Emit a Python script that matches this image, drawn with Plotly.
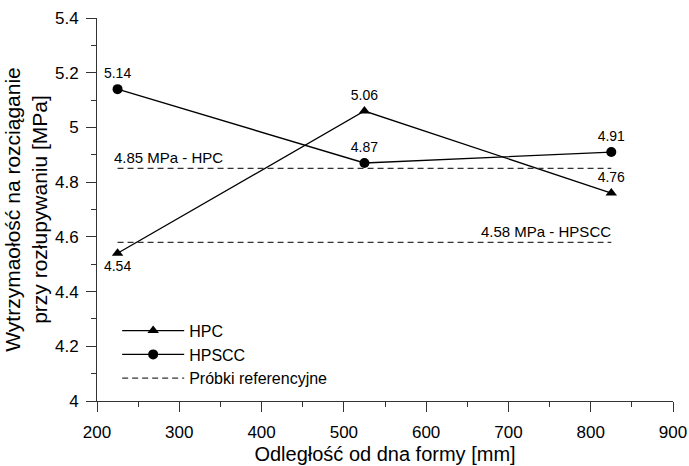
import plotly.graph_objects as go

x_pos = [225, 525, 825]
hpc = [4.54, 5.06, 4.76]
hpscc = [5.14, 4.87, 4.91]
hpc_labels = ["4.54", "5.06", "4.76"]
hpscc_labels = ["5.14", "4.87", "4.91"]
ref_x = [225, 825]
ref_hpc = 4.85
ref_hpscc = 4.58

FONT = "Liberation Sans, Arial, sans-serif"

fig = go.Figure()
fig.add_trace(go.Scatter(
    x=x_pos, y=hpc, mode="lines+markers+text", name="HPC",
    line=dict(color="black", width=1.3),
    marker=dict(symbol="triangle-up", size=10, color="black"),
    text=hpc_labels, textposition=["bottom center", "top center", "top center"],
    textfont=dict(family=FONT, size=14, color="black"),
))
fig.add_trace(go.Scatter(
    x=x_pos, y=hpscc, mode="lines+markers+text", name="HPSCC",
    line=dict(color="black", width=1.3),
    marker=dict(symbol="circle", size=10, color="black"),
    text=hpscc_labels, textposition="top center",
    textfont=dict(family=FONT, size=14, color="black"),
))
fig.add_trace(go.Scatter(
    x=ref_x, y=[ref_hpc, ref_hpc], mode="lines", name="Próbki referencyjne",
    line=dict(color="#333333", width=1.3, dash="6px,4px"),
))
fig.add_trace(go.Scatter(
    x=ref_x, y=[ref_hpscc, ref_hpscc], mode="lines", showlegend=False,
    line=dict(color="#333333", width=1.3, dash="6px,4px"),
))

fig.add_annotation(x=ref_x[0], y=ref_hpc, text=f"{ref_hpc:.2f} MPa - HPC", showarrow=False,
                   xanchor="left", yanchor="bottom", xshift=-6, yshift=0,
                   font=dict(family=FONT, size=15, color="black"))
fig.add_annotation(x=ref_x[1], y=ref_hpscc, text=f"{ref_hpscc:.2f} MPa - HPSCC", showarrow=False,
                   xanchor="right", yanchor="bottom", xshift=2, yshift=0,
                   font=dict(family=FONT, size=15, color="black"))

axis_common = dict(
    showgrid=False, zeroline=False, showline=True, linecolor="#333333", linewidth=1,
    ticks="outside", ticklen=10, tickcolor="#333333", tickwidth=1,
    tickfont=dict(family=FONT, size=17, color="black"),
    minor=dict(ticks="outside", ticklen=5, tickcolor="#333333"),
    automargin=False,
)
fig.update_xaxes(range=[200, 900], dtick=100, minor_dtick=50, ticklabelstandoff=6,
                 title=dict(text="Odległość od dna formy [mm]", font=dict(family=FONT, size=20, color="black"), standoff=5),
                 **axis_common)
fig.update_yaxes(range=[4, 5.4], dtick=0.2, minor_dtick=0.1, tickformat="~g", ticklabelstandoff=4,
                 title=dict(text="Wytrzymaołość na rozciąganie<br>przy rozłupywaniu [MPa]",
                            font=dict(family=FONT, size=21, color="black"), standoff=1),
                 **axis_common)

fig.update_layout(
    width=689, height=466,
    margin=dict(l=97, r=16, t=18, b=65),
    plot_bgcolor="white", paper_bgcolor="white",
    legend=dict(x=0.035, y=0.228, xanchor="left", yanchor="top", bgcolor="rgba(0,0,0,0)",
                font=dict(family=FONT, size=16, color="black"), itemwidth=62, tracegroupgap=0),
)

# remove the page's default body margin so the 689x466 figure fills the window exactly
fig.write_html("out.html", config={"displayModeBar": False},
               post_script="document.body.style.margin='0';")
